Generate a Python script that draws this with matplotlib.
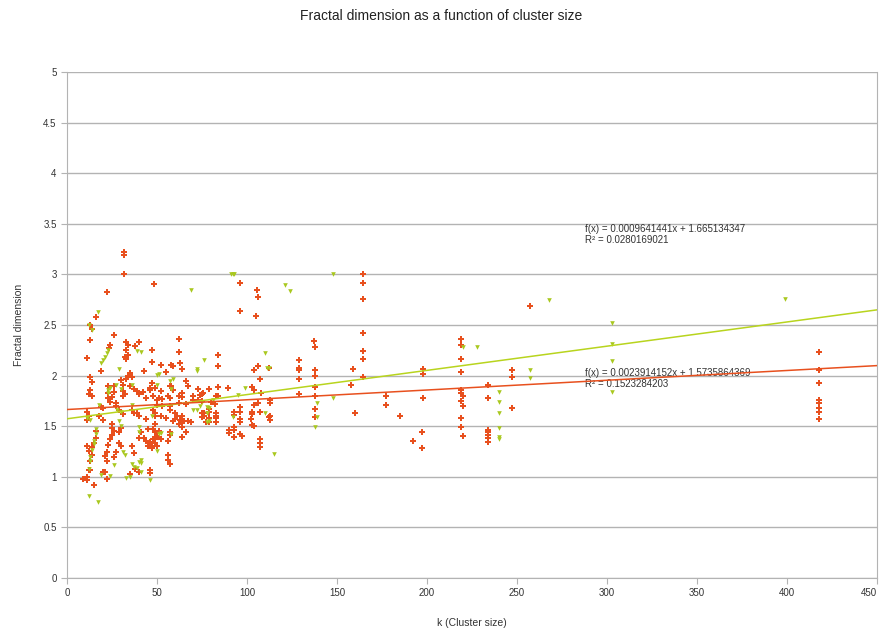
import matplotlib
matplotlib.use("Agg")
import matplotlib.pyplot as plt
import matplotlib.transforms as mtransforms
import numpy as np

plt.rcParams['font.family'] = ['Liberation Sans', 'DejaVu Sans']

# ---- data: series A (red "+") ----
red_x = [31.6, 31.6, 31.6, 22, 48.5, 16, 13, 14, 13, 26, 11, 19,
         24, 23.5, 33, 34, 33, 32, 33, 34, 40, 38, 47, 62, 62, 63, 64, 52, 58, 59, 55, 47, 43,
         35, 34, 33, 36, 30, 31, 13, 14, 13, 12, 14, 23, 23, 23, 24, 26, 26, 25, 27,
         31, 32, 31, 35, 37, 39, 40, 42, 44, 47, 49, 52, 48, 50, 53, 57, 58, 59, 56, 62, 64,
         66, 67, 73, 79, 74, 80, 82, 19, 20, 11, 12, 11, 18, 20, 27, 29, 31, 36, 37, 39, 40,
         48, 49, 49, 52, 57, 60, 61, 64, 65, 59, 62, 64, 66, 49, 48, 51, 50, 48, 49, 50,
         56, 56, 56, 57, 43, 44, 36, 37, 38, 40, 35, 46, 46, 30, 29, 29, 30, 27, 26,
         25, 25, 26, 25, 24, 23, 22, 21, 22, 16, 16, 15, 14, 14, 13, 13, 12, 11, 12,
         20, 21, 22, 9, 11, 11, 15,
         46, 46, 64, 70, 75, 83, 44, 51, 57, 50, 53, 57, 62, 66, 70, 73, 75, 79, 79, 79, 79,
         75, 75, 83, 83, 44, 55, 60, 63, 67, 69, 64, 64, 45, 41, 40, 49, 50, 52, 57, 57, 64,
         46, 47, 47, 45,
         96, 105.6, 106, 96, 105, 164.6, 164.6, 164.6, 164.6, 164.6, 164.6, 164.6,
         159, 158, 160, 177, 177, 137, 138, 138, 138, 138, 138, 138, 138,
         129, 129, 129, 129, 129, 84, 84, 84, 84, 89.5, 75.5, 103, 104, 108, 106, 113, 113,
         104, 106, 107, 112, 76, 76, 77, 83, 83, 83, 90, 90, 93, 93, 93, 93, 93,
         96, 96, 96, 96, 96, 97, 103, 103, 102, 103, 104, 104, 107, 113, 113, 112,
         107, 107, 107, 257,
         219, 219, 219, 219, 219, 219, 220, 219, 220, 219, 219, 220,
         198, 198, 198, 185, 197, 192, 197,
         234, 234, 234, 234, 234, 234, 234, 247, 247, 247,
         418, 418, 418, 418, 418, 418, 418, 418]
red_y = [3.22, 3.19, 3.00, 2.83, 2.91, 2.58, 2.50, 2.46, 2.35, 2.40, 2.17, 2.05,
         2.30, 2.27, 2.33, 2.30, 2.25, 2.18, 2.16, 2.20, 2.33, 2.29, 2.25, 2.36, 2.23, 2.12, 2.07, 2.11, 2.11, 2.10, 2.04, 2.13, 2.05,
         2.03, 2.00, 1.97, 1.99, 1.96, 1.91, 1.99, 1.94, 1.86, 1.82, 1.80, 1.90, 1.83, 1.78, 1.74, 1.90, 1.84, 1.79, 1.73,
         1.85, 1.82, 1.80, 1.90, 1.87, 1.85, 1.82, 1.84, 1.78, 1.93, 1.88, 1.85, 1.80, 1.76, 1.77, 1.90, 1.90, 1.86, 1.80, 1.80, 1.79,
         1.95, 1.90, 1.87, 1.87, 1.81, 1.74, 1.72, 1.69, 1.68, 1.64, 1.60, 1.56, 1.60, 1.56, 1.70, 1.66, 1.62, 1.66, 1.63, 1.63, 1.60,
         1.66, 1.63, 1.60, 1.60, 1.66, 1.63, 1.60, 1.60, 1.55, 1.55, 1.52, 1.49, 1.44, 1.52, 1.47, 1.45, 1.40, 1.37, 1.33, 1.30,
         1.35, 1.22, 1.17, 1.13, 1.38, 1.35, 1.30, 1.24, 1.08, 1.05, 1.03, 1.07, 1.04, 1.48, 1.44, 1.33, 1.30, 1.25, 1.20,
         1.52, 1.48, 1.45, 1.41, 1.37, 1.31, 1.25, 1.21, 1.16, 1.45, 1.38, 1.33, 1.29, 1.22, 1.16, 1.07, 1.07, 1.30, 1.26,
         1.05, 1.05, 0.98, 0.98, 0.97, 1.00, 0.92,
         1.88, 1.86, 1.83, 1.80, 1.82, 1.80, 1.78, 1.78, 1.78, 1.71, 1.70, 1.70, 1.73, 1.72, 1.76, 1.76, 1.75, 1.67, 1.64, 1.58, 1.54,
         1.63, 1.59, 1.63, 1.58, 1.57, 1.58, 1.57, 1.56, 1.55, 1.54, 1.53, 1.49, 1.47, 1.44, 1.38, 1.44, 1.39, 1.37, 1.44, 1.41, 1.39,
         1.34, 1.30, 1.28, 1.30,
         2.92, 2.85, 2.78, 2.64, 2.59, 3.00, 2.92, 2.76, 2.42, 2.24, 2.16, 1.99,
         2.07, 1.91, 1.63, 1.80, 1.71, 2.34, 2.28, 2.06, 2.00, 1.89, 1.80, 1.67, 1.59,
         2.15, 2.08, 2.06, 1.97, 1.82, 2.20, 2.10, 1.89, 1.80, 1.88, 1.83, 1.89, 1.86, 1.83, 1.73, 1.76, 1.73,
         2.06, 2.10, 1.97, 2.08, 1.63, 1.60, 1.54, 1.63, 1.60, 1.54, 1.46, 1.43, 1.64, 1.61, 1.49, 1.46, 1.39,
         1.69, 1.64, 1.57, 1.54, 1.42, 1.40, 1.64, 1.62, 1.57, 1.51, 1.71, 1.50, 1.64, 1.60, 1.56, 1.59,
         1.37, 1.33, 1.29, 2.69,
         2.36, 2.30, 2.16, 2.04, 1.86, 1.83, 1.80, 1.75, 1.70, 1.58, 1.49, 1.40,
         2.07, 2.02, 1.78, 1.60, 1.44, 1.35, 1.28,
         1.91, 1.78, 1.46, 1.44, 1.41, 1.38, 1.34, 2.06, 1.99, 1.68,
         2.23, 2.06, 1.93, 1.76, 1.73, 1.68, 1.64, 1.57]

# ---- data: series B (green triangles) ----
green_x = [17, 12, 14, 69, 91, 92, 93, 121, 124, 148, 268, 303, 399,
           23, 22, 21, 20, 19, 39, 41, 76, 72, 72, 51, 50, 29,
           30, 27, 23, 24, 23, 36, 50, 58, 57, 59, 75, 74, 81,
           11, 13, 18, 28, 30, 36, 47, 51, 52, 58, 40, 40,
           36, 37, 39, 41, 40, 41, 41, 46, 35, 33, 29, 30, 31, 32, 26,
           16, 16, 15, 15, 14, 13, 13, 12, 12, 17, 19, 24, 50, 70, 72, 79, 79,
           95, 99, 110, 111, 112, 78, 78, 78, 92, 110, 115,
           220, 228, 240, 240, 240, 240, 240, 240, 257, 257, 303, 303, 303,
           139, 139, 138, 148]
green_y = [2.63, 2.50, 2.45, 2.85, 3.00, 3.00, 3.00, 2.90, 2.84, 3.00, 2.75, 2.52, 2.76,
           2.25, 2.22, 2.18, 2.15, 2.12, 2.24, 2.23, 2.15, 2.07, 2.05, 2.02, 2.01, 2.07,
           1.87, 1.91, 1.86, 1.88, 1.83, 1.91, 1.91, 1.87, 1.95, 1.97, 1.74, 1.70, 1.76,
           1.58, 1.56, 1.71, 1.66, 1.64, 1.71, 1.60, 1.42, 1.43, 1.42, 1.49, 1.44,
           1.13, 1.10, 1.09, 1.05, 1.15, 1.17, 1.14, 0.97, 1.00, 0.99, 1.55, 1.50, 1.25, 1.22, 1.12,
           1.47, 1.42, 1.35, 1.32, 1.27, 1.20, 1.16, 1.08, 0.81, 0.75, 1.02, 1.01, 1.26, 1.66, 1.66, 1.68, 1.55,
           1.81, 1.88, 2.22, 2.08, 2.08, 1.69, 1.63, 1.54, 1.59, 1.63, 1.23,
           2.28, 2.28, 1.84, 1.74, 1.63, 1.48, 1.39, 1.37, 2.06, 1.98, 2.31, 2.14, 1.84,
           1.73, 1.59, 1.49, 1.78]

# trend line coefficients as shown on chart
red_slope, red_icpt = 0.0009641441, 1.665134347
green_slope, green_icpt = 0.0023914152, 1.5735864369
red_label = "f(x) = 0.0009641441x + 1.665134347\nR² = 0.0280169021"
green_label = "f(x) = 0.0023914152x + 1.5735864369\nR² = 0.1523284203"

x_ticks = [0, 50, 100, 150, 200, 250, 300, 350, 400, 450]
y_ticks = [0, 0.5, 1, 1.5, 2, 2.5, 3, 3.5, 4, 4.5, 5]

RED = '#E8501E'
GREEN = '#A9C81F'
GREEN_LINE = '#B8D41E'

fig = plt.figure(figsize=(8.83, 6.32), dpi=100)
ax = fig.add_axes([0.0759, 0.0854, 0.9171, 0.8006])

ax.set_xlim(0, 450)
ax.set_ylim(0, 5)
ax.set_xticks(x_ticks)
ax.set_yticks(y_ticks)
ax.set_yticklabels([f"{v:g}" for v in y_ticks])
ax.grid(axis='y', color='#b3b3b3', linewidth=1.0)
ax.set_axisbelow(True)
for s in ax.spines.values():
    s.set_color('#b3b3b3')
ax.spines['top'].set_visible(False)
ax.tick_params(axis='both', colors='#b3b3b3', labelcolor='#333333', labelsize=7, length=4, direction='out')

# keep the last x tick label inside the figure
last = ax.get_xticklabels()[-1]
last.set_transform(last.get_transform() + mtransforms.ScaledTranslation(-6 / 72, 0, fig.dpi_scale_trans))

ax.scatter(red_x, red_y, marker='P', s=14, color=RED, linewidths=0, zorder=3)
ax.scatter(green_x, green_y, marker='v', s=11, color=GREEN, linewidths=0, zorder=3)

xl = np.array([0, 450])
ax.plot(xl, green_icpt + green_slope * xl, color=GREEN_LINE, lw=1.1, zorder=4)
ax.plot(xl, red_icpt + red_slope * xl, color=RED, lw=1.1, zorder=4)

ax.text(288, 3.50, red_label, fontsize=7, color='#333333', va='top', ha='left', linespacing=1.2)
ax.text(288, 2.08, green_label, fontsize=7, color='#333333', va='top', ha='left', linespacing=1.2)

ax.set_xlabel("k (Cluster size)", fontsize=7.5, color='#333333', labelpad=14)
ax.set_ylabel("Fractal dimension", fontsize=7.5, color='#333333', labelpad=14)
fig.suptitle("Fractal dimension as a function of cluster size", fontsize=10, y=0.985, color='#222222')

fig.savefig("out.png", dpi=100)
